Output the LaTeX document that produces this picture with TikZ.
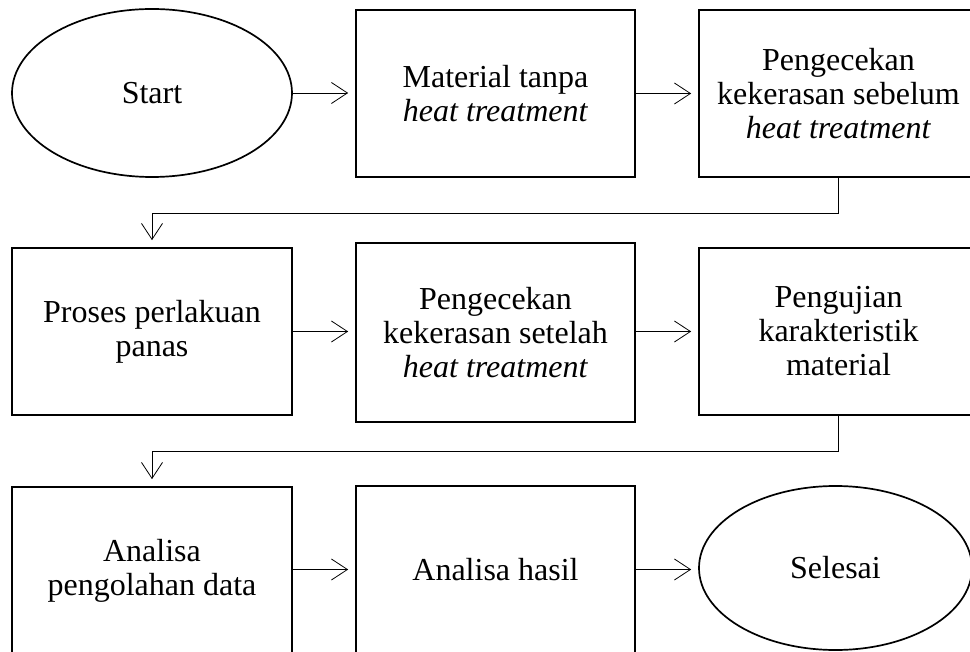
\documentclass[tikz,border=0pt]{standalone}
\usepackage{fontspec}
\setmainfont{Liberation Serif}
\usetikzlibrary{shapes.geometric,arrows.meta}
\begin{document}
\begin{tikzpicture}[x=1pt,y=-1pt,
  every node/.style={font=\fontsize{32}{34}\selectfont, align=center, inner sep=0pt},
  stepbox/.style={draw, line width=1.7pt, minimum width=279pt, minimum height=167pt},
  terminal/.style={draw, ellipse, line width=1.7pt},
  conn/.style={line width=0.8pt, -{Straight Barb[length=16pt,width=21pt]}, shorten >=7pt}]
\useasboundingbox (0,0) rectangle (970,652);
% row 1
\node[terminal, minimum width=280pt, minimum height=168pt] (start) at (152,93) {Start};
\node[stepbox] (m1) at (495.5,93.5) {Material tanpa\\\textit{heat treatment}};
\node[stepbox] (c1) at (838.5,93.5) {Pengecekan\\kekerasan sebelum\\\textit{heat treatment}};
% row 2
\node[stepbox, minimum width=280pt] (p1) at (152,331.5) {Proses perlakuan\\panas};
\node[stepbox, minimum height=179pt] (p2) at (495.5,332.5) {Pengecekan\\kekerasan setelah\\\textit{heat treatment}};
\node[stepbox] (p3) at (838.5,331.5) {Pengujian\\karakteristik\\material};
% row 3
\node[stepbox, minimum width=280pt] (a1) at (152,570.5) {Analisa\\pengolahan data};
\node[stepbox] (a2) at (495.5,569.5) {Analisa hasil};
\node[terminal, minimum width=273pt, minimum height=164pt] (end) at (835.5,568) {Selesai};
% connectors
\draw[conn] (start.east) -- (start.east -| m1.west);
\draw[conn] (m1.east) -- (c1.west);
\draw[conn] (c1.south) -- ++(0,36) -| (p1.north);
\draw[conn] (p1.east) -- (p1.east -| p2.west);
\draw[conn] (p2.east |- p3) -- (p3.west);
\draw[conn] (p3.south) -- ++(0,36) -| (a1.north);
\draw[conn] (a1.east |- a2) -- (a2.west);
\draw[conn] (a2.east) -- (a2.east -| end.west);
\end{tikzpicture}
\end{document}
